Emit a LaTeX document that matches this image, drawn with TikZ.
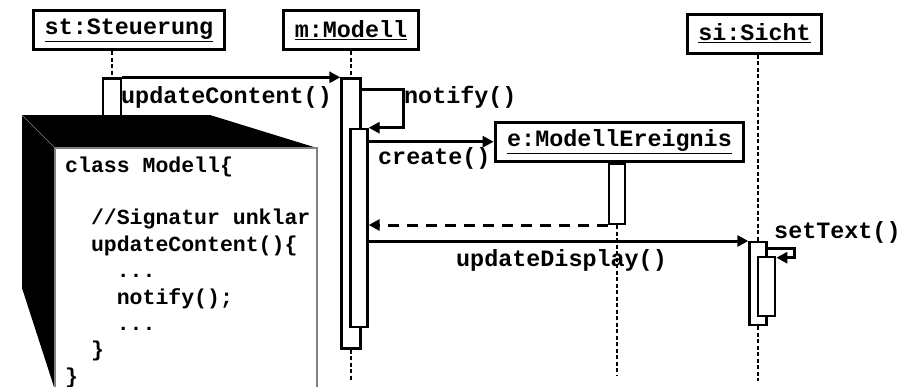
\documentclass[tikz,border=0pt]{standalone}
\usepackage{fontspec}
\setmonofont{Liberation Mono}
\usetikzlibrary{arrows.meta,calc}

\newcommand{\labelfont}{\ttfamily\bfseries\fontsize{23.4pt}{28pt}\selectfont}
\newcommand{\codefont}{\ttfamily\bfseries\fontsize{21.5pt}{26.4pt}\selectfont}

\tikzset{
  obj/.style={draw, line width=3pt, fill=white, font=\labelfont, minimum height=39pt, inner xsep=11pt, inner ysep=0pt},
  act/.style={draw, line width=2.3pt, fill=white, inner sep=0pt, anchor=north},
  msg/.style={line width=3pt, -{Triangle[length=11pt,width=11pt]}},
  reply/.style={msg, dash pattern=on 11pt off 8pt},
  life/.style={line width=2pt, dash pattern=on 4pt off 2.5pt},
  lbl/.style={font=\labelfont, inner sep=0pt, anchor=west},
}

\begin{document}
\begin{tikzpicture}[x=1pt, y=-1pt]
\useasboundingbox (0,0) rectangle (901,386);
% objects
\node[obj] (st) at (129,30) {\underline{st:Steuerung}};
\node[obj] (m) at (351,30) {\underline{m:Modell}};
\node[obj] (si) at (754.5,33.5) {\underline{si:Sicht}};
\node[obj, inner xsep=12pt] (e) at (619.5,141.7) {\underline{e:ModellEreignis}};

% activations
\node[act, minimum width=18.5pt, minimum height=120pt] (stA) at (112,77.3) {};
\node[act, minimum width=19pt, minimum height=270pt] (mA) at (351,77.3) {};
\node[act, minimum width=17pt, minimum height=198pt] (mB) at (359,127.7) {};
\node[act, minimum width=16pt, minimum height=60pt] (eA) at ([xshift=-2.5pt]e.south) {};
\node[act, minimum width=17pt, minimum height=83pt] (siA) at (758,241) {};
\node[act, minimum width=17pt, minimum height=59pt] (siB) at (766.7,255.7) {};

% lifelines
\draw[life] (st.south -| stA.north) -- (stA.north);
\draw[life] (m.south -| mA.north) -- (mA.north);
\draw[life] (mA.south) -- ++(0,30);
\draw[life] (eA.south) -- ++(0,151);
\draw[life] (si.south -| siA.north) -- (siA.north);
\draw[life] (siA.south) -- ++(0,55);

% code note
\fill (22,115) -- (210,115) -- (317,148) -- (55,148) -- (55,390) -- (22,288) -- cycle;
\draw[gray, line width=0.6pt] (22,115) -- (55,148);
\draw[gray, line width=1.2pt, fill=white] (55,148) rectangle (317,395);
\node[font=\codefont, align=left, anchor=base west, inner sep=0pt] (code) at (65,383.2)
  {class Modell\{\\ \\ \phantom{xx}//Signatur unklar\\ \phantom{xx}updateContent()\{\\
   \phantom{xxxx}...\\ \phantom{xxxx}notify();\\ \phantom{xxxx}...\\ \phantom{xx}\}\\ \}};

% messages
\draw[msg] (stA.north east) -- (mA.north west);
\draw[msg] ([yshift=-12pt]mA.north east) -- ++(42,0) |- (mB.north east);
\draw[msg] (mB.east |- e.west) -- (e.west);
\draw[reply] (eA.south west) -- (mB.east |- eA.south west);
\draw[msg] (mB.east |- siA.north) -- (siA.north west);
\draw[msg] ([yshift=-7pt]siA.north east) -- ++(27,0) |- ([yshift=-2pt]siB.north east);

\node[lbl] (lUpd) at (121,97) {updateContent()};
\node[lbl] (lNot) at (404,97) {notify()};
\node[lbl] (lCre) at (378,158) {create()};
\node[lbl] (lDis) at (456,260) {updateDisplay()};
\node[lbl] (lSet) at (774,232) {setText()};
\end{tikzpicture}
\end{document}
